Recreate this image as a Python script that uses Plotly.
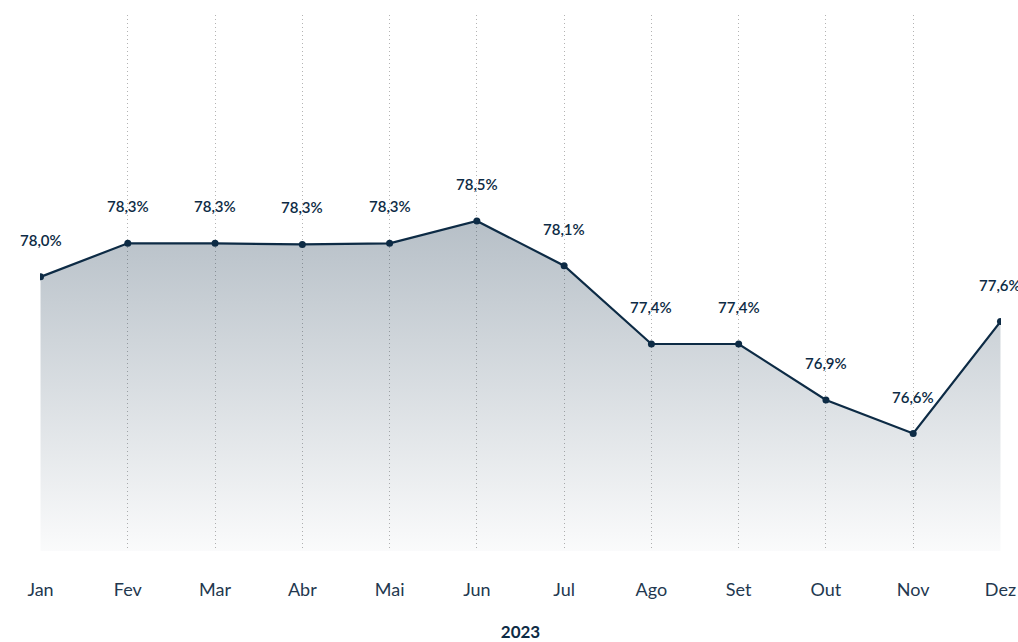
import plotly.graph_objects as go

months = ["Jan", "Fev", "Mar", "Abr", "Mai", "Jun", "Jul", "Ago", "Set", "Out", "Nov", "Dez"]
values = [78.0, 78.3, 78.3, 78.29, 78.3, 78.5, 78.1, 77.4, 77.4, 76.9, 76.6, 77.6]
labels = ["78,0%", "78,3%", "78,3%", "78,3%", "78,3%", "78,5%", "78,1%", "77,4%", "77,4%", "76,9%", "76,6%", "77,6%"]
year = "2023"

navy = "#0d2b45"
x_idx = list(range(len(months)))

fig = go.Figure()
fig.add_trace(go.Scatter(
    x=x_idx, y=values, mode="lines+markers",
    line=dict(color=navy, width=2.2),
    marker=dict(color=navy, size=7),
    fill="tozeroy",
    fillgradient=dict(type="vertical", start=75.55, stop=78.5,
                      colorscale=[[0, "rgba(13,43,69,0.02)"], [1, "rgba(13,43,69,0.30)"]]),
    hoverinfo="skip",
))

for xi, v, t in zip(x_idx, values, labels):
    fig.add_annotation(x=xi, y=v, text=t, showarrow=False, yshift=37,
                       font=dict(family="Lato, sans-serif", size=15, color=navy, weight=600))

fig.update_layout(
    width=1018, height=642,
    margin=dict(l=40, r=17, t=15, b=91),
    paper_bgcolor="white", plot_bgcolor="white",
    showlegend=False,
    xaxis=dict(
        range=[-0.006, 11.006], tickmode="array", tickvals=x_idx, ticktext=months,
        showgrid=True, gridcolor="#b3b3b3", griddash="1px,3px", gridwidth=1,
        zeroline=False, showline=False, ticks="", automargin=False,
        ticklabelstandoff=26,
        tickfont=dict(family="Lato, sans-serif", size=18, color="#23384f"),
        title=dict(text="<b>" + year + "</b>", standoff=27,
                   font=dict(family="Lato, sans-serif", size=17, color=navy)),
    ),
    yaxis=dict(range=[75.55, 80.34], showgrid=False, zeroline=False, automargin=False,
               showticklabels=False, showline=False),
)

fig.write_html("out.html", config={"displayModeBar": False},
               post_script="document.body.style.margin='0';document.body.style.overflow='hidden';")
